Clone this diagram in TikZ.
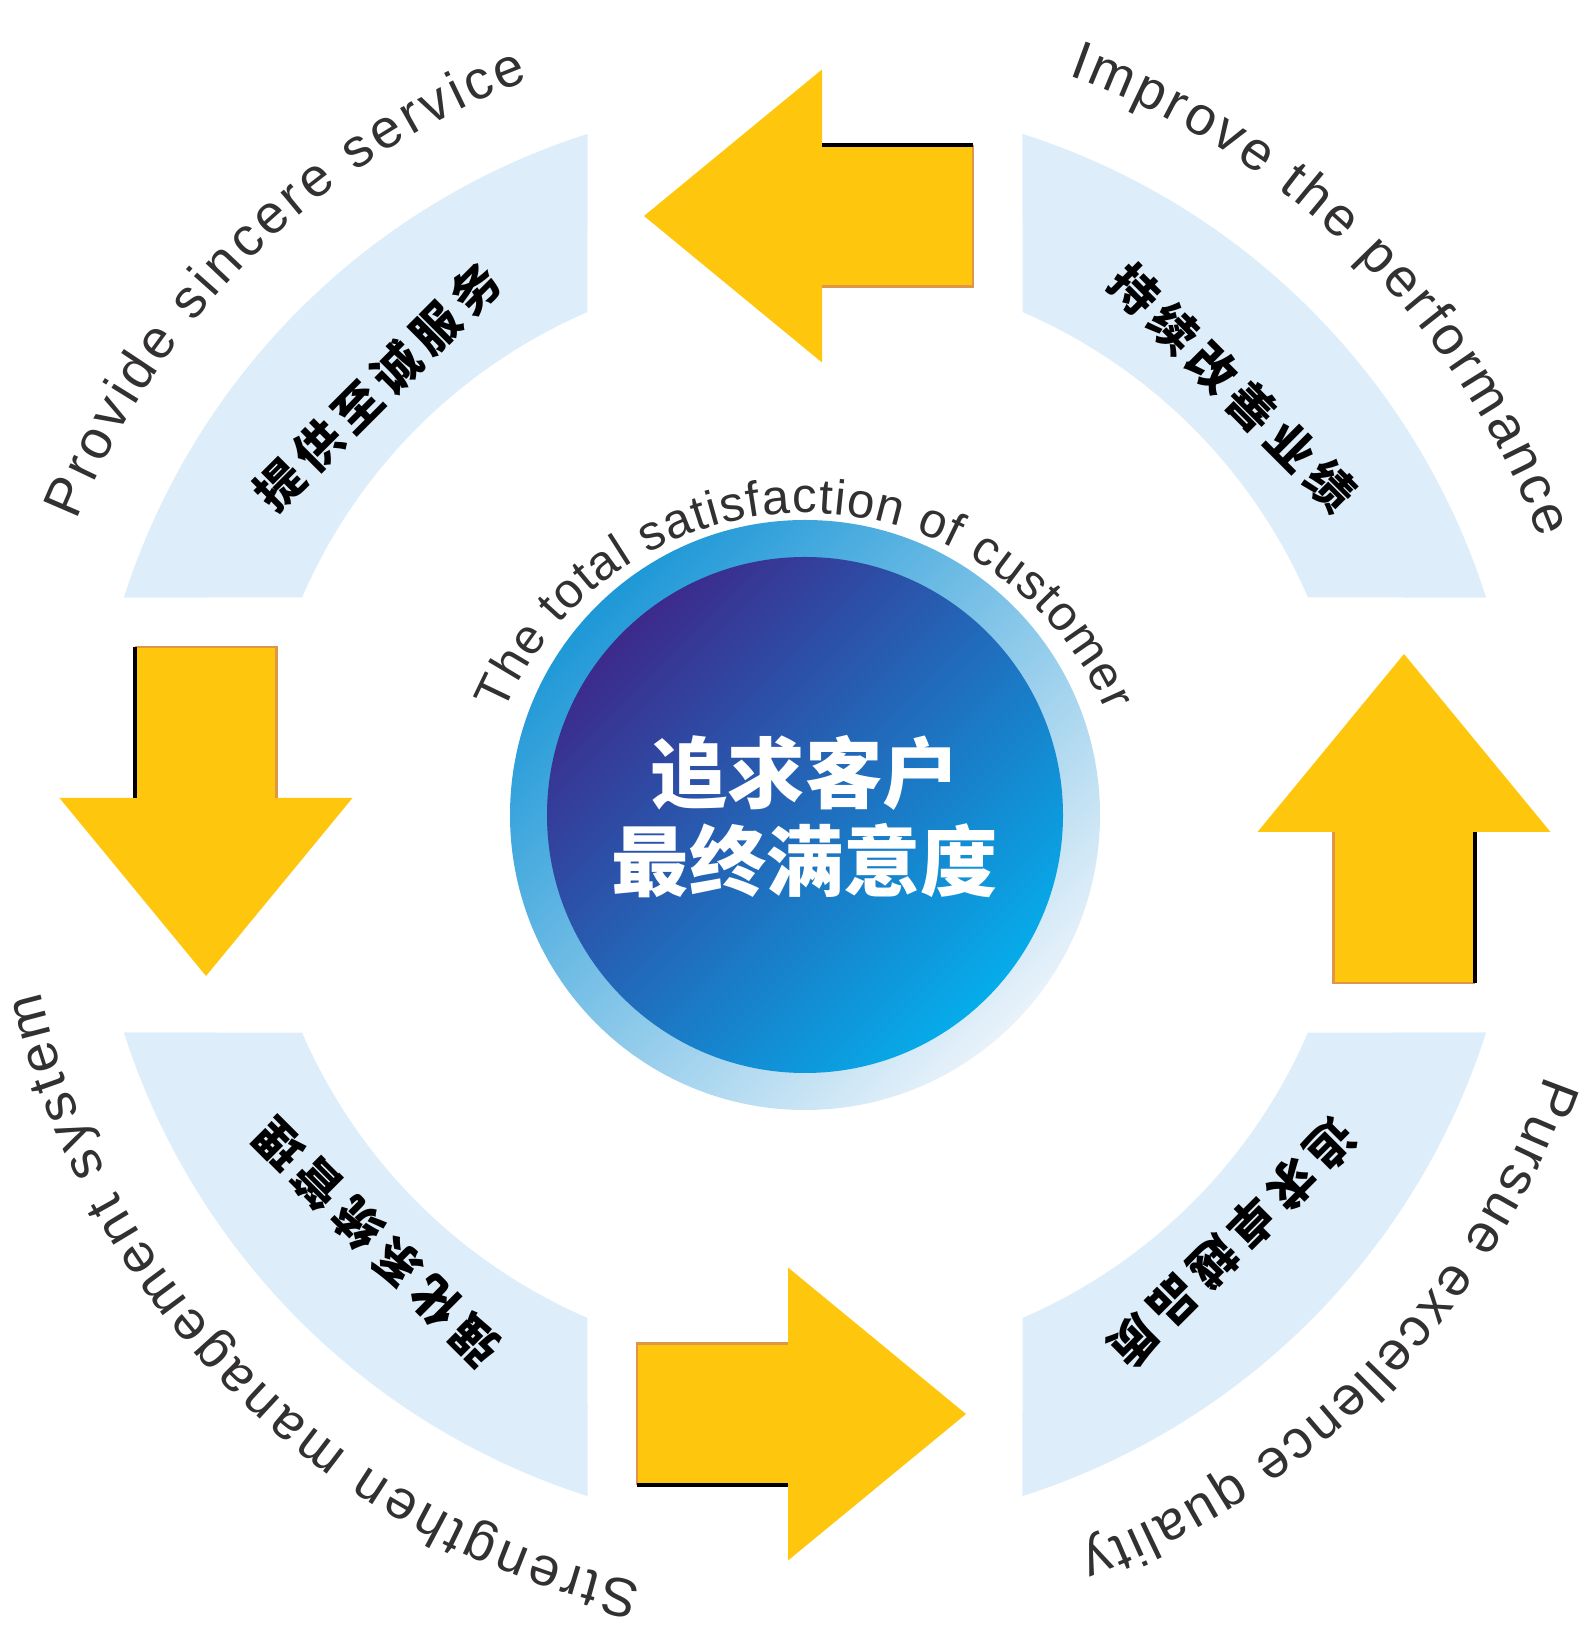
\documentclass[tikz,border=0pt]{standalone}
\usepackage{fontspec}
\setmainfont{Liberation Sans}
\newfontfamily\cjk{Noto Sans CJK SC}
\usetikzlibrary{decorations.text}

\definecolor{bandblue}{RGB}{221,238,250}
\definecolor{arrowyellow}{RGB}{255,198,14}
\definecolor{arrowedge}{RGB}{222,150,72}
\definecolor{ringblue}{RGB}{30,152,215}
\definecolor{ringfade}{RGB}{232,242,250}
\definecolor{coretop}{RGB}{60,42,140}
\definecolor{coremid}{RGB}{10,92,176}
\definecolor{corebottom}{RGB}{6,172,234}
\definecolor{textgray}{RGB}{50,48,48}

\newcommand{\outerfont}{\fontsize{15.5}{18}\selectfont\color{textgray}}
\newcommand{\innerfont}{\fontsize{14}{17}\selectfont\color{textgray}}

\tikzset{
  band/.style={fill=bandblue},
  bandtext/.style={font=\cjk\bfseries\fontsize{13.5}{14}\selectfont, transform shape, inner sep=0pt},
  ringtext/.style={decorate, decoration={text along path, text align={fit to path}, text={#1}}}
}

\begin{document}
\begin{tikzpicture}
  \useasboundingbox (-8.05,-8.11) rectangle (7.84,8.15);
  \foreach \a/\txt [count=\k] in {0/{提,供,至,诚,服,务}, -90/{持,续,改,善,业,绩}, -180/{追,求,卓,越,品,质}, -270/{强,化,系,统,管,理}} {
    \begin{scope}[rotate=\a]
      \fill[band] (113.4:5.48) arc[start angle=113.4, end angle=156.6, radius=5.48]
        -- (162.3:7.15) arc[start angle=162.3, end angle=107.7, radius=7.15] -- cycle;
      \fill[arrowyellow] (-1.61,5.99) -- (0.17,7.455) -- (0.17,6.695) -- (1.68,6.695)
        -- (1.68,5.285) -- (0.17,5.285) -- (0.17,4.525) -- cycle;
      \draw[arrowedge, line width=0.8pt] (0.17,5.285) -- (1.68,5.285) -- (1.68,6.695);
      \draw[black, line width=1.2pt] (0.17,6.70) -- (1.68,6.70);
      \begin{scope}[rotate=45]
        \foreach \ch [count=\i] in \txt
          \node[bandtext] (q\k-\i) at ({(\i-3.5)*0.555},6.05) {\ch};
      \end{scope}
    \end{scope}
  }
  \shade[top color=ringblue, middle color=ringblue, bottom color=ringfade, shading angle=45] (0,0) circle (2.95);
  \shade[top color=coretop, middle color=coremid, bottom color=corebottom, shading angle=45] (0,0) circle (2.58);
  \node[align=center, text=white, font=\cjk\bfseries\fontsize{22}{25}\selectfont] (goal) at (0,-0.02) {追求客户\\最终满意度};
  \path[shift={(0,-0.25)}, ringtext={|\innerfont|The total satisfaction of customer}]
    (157:3.27) arc[start angle=157, end angle=23, radius=3.27];
  \path[ringtext={|\outerfont|Provide sincere service}]
    (158:7.85) arc[start angle=158, end angle=110.6, radius=7.85];
  \path[ringtext={|\outerfont|Improve the performance}]
    (70.4:7.85) arc[start angle=70.4, end angle=20.6, radius=7.85];
  \path[ringtext={|\outerfont|Pursue excellence quality}]
    (-19.4:7.85) arc[start angle=-19.4, end angle=-69.5, radius=7.85];
  \path[ringtext={|\outerfont|Strengthen management system}]
    (258:7.85) arc[start angle=258, end angle=193, radius=7.85];
\end{tikzpicture}
\end{document}
